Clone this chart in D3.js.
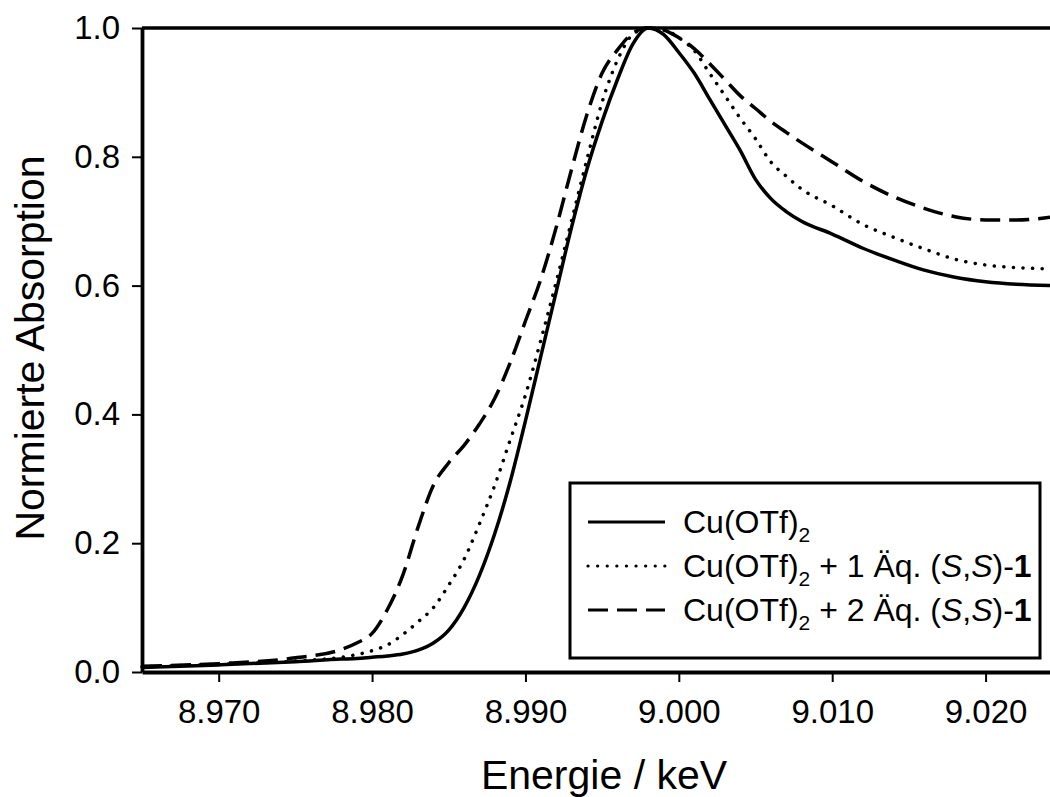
<!DOCTYPE html>
<html>
<head>
<meta charset="utf-8">
<title>Normierte Absorption</title>
<style>
body { margin: 0; background: #fff; }
svg { display: block; background: #fff; font-family: "Liberation Sans", Arial, sans-serif; }
</style>
</head>
<body>
<div id="chart"></div>
<script src="https://d3js.org/d3.v7.min.js"></script>
<script>
// energy grid (keV), shared by the three spectra
var energy = [8.965, 8.970, 8.975, 8.978, 8.979, 8.980, 8.981, 8.982, 8.983, 8.984, 8.985,
  8.986, 8.987, 8.988, 8.989, 8.990, 8.991, 8.992, 8.993, 8.994, 8.995, 8.996, 8.997,
  8.998, 8.999, 9.000, 9.001, 9.002, 9.003, 9.004, 9.005, 9.006, 9.007, 9.008, 9.010,
  9.012, 9.014, 9.016, 9.018, 9.020, 9.022, 9.0242];

var cuOTf2 = [0.007, 0.011, 0.016, 0.020, 0.021, 0.023, 0.025, 0.028, 0.034, 0.045, 0.065,
  0.100, 0.150, 0.215, 0.295, 0.390, 0.490, 0.590, 0.690, 0.780, 0.855, 0.920, 0.975,
  1.000, 0.990, 0.962, 0.930, 0.890, 0.850, 0.810, 0.765, 0.735, 0.715, 0.700, 0.680,
  0.658, 0.640, 0.624, 0.613, 0.606, 0.602, 0.600];

var plus1eq = [0.008, 0.012, 0.017, 0.023, 0.027, 0.033, 0.042, 0.058, 0.078, 0.100, 0.135,
  0.175, 0.230, 0.290, 0.360, 0.430, 0.515, 0.605, 0.700, 0.795, 0.885, 0.950, 0.990,
  1.000, 0.998, 0.985, 0.965, 0.930, 0.895, 0.860, 0.828, 0.792, 0.770, 0.750, 0.724,
  0.695, 0.675, 0.657, 0.641, 0.632, 0.628, 0.626];

var plus2eq = [0.009, 0.013, 0.022, 0.035, 0.045, 0.060, 0.097, 0.150, 0.225, 0.290, 0.325,
  0.352, 0.385, 0.425, 0.480, 0.545, 0.610, 0.690, 0.780, 0.865, 0.930, 0.966, 0.992,
  1.000, 0.997, 0.985, 0.968, 0.945, 0.920, 0.895, 0.875, 0.855, 0.838, 0.822, 0.792,
  0.762, 0.738, 0.720, 0.707, 0.702, 0.702, 0.706];

var xTicks = [8.970, 8.980, 8.990, 9.000, 9.010, 9.020];
var yTicks = [0.0, 0.2, 0.4, 0.6, 0.8, 1.0];

var series = [
  { values: cuOTf2, dash: null, cap: "butt", eq: null },
  { values: plus1eq, dash: "0.1 9.5", cap: "round", eq: "1" },
  { values: plus2eq, dash: "20 9", cap: "butt", eq: "2" }
];

var W = 1050, H = 797;
var margin = { top: 28, left: 142, bottom: 125 };

var svg = d3.select("#chart").append("svg")
  .attr("width", W)
  .attr("height", H);

var x = d3.scaleLinear().domain([8.965, 9.0242]).range([margin.left, W]);
var y = d3.scaleLinear().domain([0, 1]).range([H - margin.bottom, margin.top]);

var line = d3.line()
  .x(function(d) { return x(d[0]); })
  .y(function(d) { return y(d[1]); })
  .curve(d3.curveMonotoneX);

// curves
svg.append("g").selectAll("path").data(series).enter().append("path")
  .attr("d", function(s) { return line(energy.map(function(e, i) { return [e, s.values[i]]; })); })
  .attr("fill", "none")
  .attr("stroke", "#000")
  .attr("stroke-width", 3.5)
  .attr("stroke-linecap", function(s) { return s.cap; })
  .attr("stroke-dasharray", function(s) { return s.dash; });

// frame top line (right side falls outside the picture)
svg.append("line")
  .attr("x1", x.range()[0]).attr("x2", W)
  .attr("y1", y(1)).attr("y2", y(1))
  .attr("stroke", "#000").attr("stroke-width", 3.5);

// axes
var xAxis = svg.append("g")
  .attr("transform", "translate(0," + y(0) + ")")
  .call(d3.axisBottom(x).tickValues(xTicks).tickFormat(d3.format(".3f"))
    .tickSize(10).tickSizeOuter(0).tickPadding(18));

var yAxis = svg.append("g")
  .attr("transform", "translate(" + x.range()[0] + ",0)")
  .call(d3.axisLeft(y).tickValues(yTicks).tickFormat(d3.format(".1f"))
    .tickSize(10).tickSizeOuter(0).tickPadding(12));

[xAxis, yAxis].forEach(function(a) {
  a.select(".domain").attr("stroke-width", 3.8);
  a.selectAll(".tick line").attr("stroke-width", 2);
  a.selectAll("text").attr("font-size", 33).attr("font-family", "Liberation Sans, Arial, sans-serif").attr("fill", "#000");
});

// axis titles
svg.append("text")
  .attr("x", 604).attr("y", 789)
  .attr("text-anchor", "middle")
  .attr("font-size", 41)
  .text("Energie / keV");

svg.append("text")
  .attr("transform", "translate(44," + ((y(0) + y(1)) / 2 - 2) + ") rotate(-90)")
  .attr("text-anchor", "middle")
  .attr("font-size", 41)
  .text("Normierte Absorption");

// legend
var legend = svg.append("g");
legend.append("rect")
  .attr("x", 570).attr("y", 483)
  .attr("width", 470).attr("height", 175)
  .attr("fill", "#fff").attr("stroke", "#000").attr("stroke-width", 3);

var rows = legend.selectAll("g.row").data(series).enter().append("g")
  .attr("class", "row")
  .attr("transform", function(d, i) { return "translate(0," + (522 + i * 44) + ")"; });

rows.append("line")
  .attr("x1", 588).attr("x2", 665)
  .attr("stroke", "#000").attr("stroke-width", 3.2)
  .attr("stroke-linecap", function(s) { return s.cap; })
  .attr("stroke-dasharray", function(s) { return s.dash; });

var label = rows.append("text")
  .attr("x", 683).attr("y", 11)
  .attr("font-size", 32);

label.append("tspan").text("Cu(OTf)");
label.append("tspan").attr("font-size", 21).attr("dy", 9).text("2");
label.filter(function(s) { return s.eq; }).each(function(s) {
  var t = d3.select(this);
  t.append("tspan").attr("dy", -9).text(" + " + s.eq + " Äq. (");
  t.append("tspan").attr("font-style", "italic").text("S");
  t.append("tspan").text(",");
  t.append("tspan").attr("font-style", "italic").text("S");
  t.append("tspan").text(")-");
  t.append("tspan").attr("font-weight", "bold").text("1");
});
</script>
</body>
</html>
